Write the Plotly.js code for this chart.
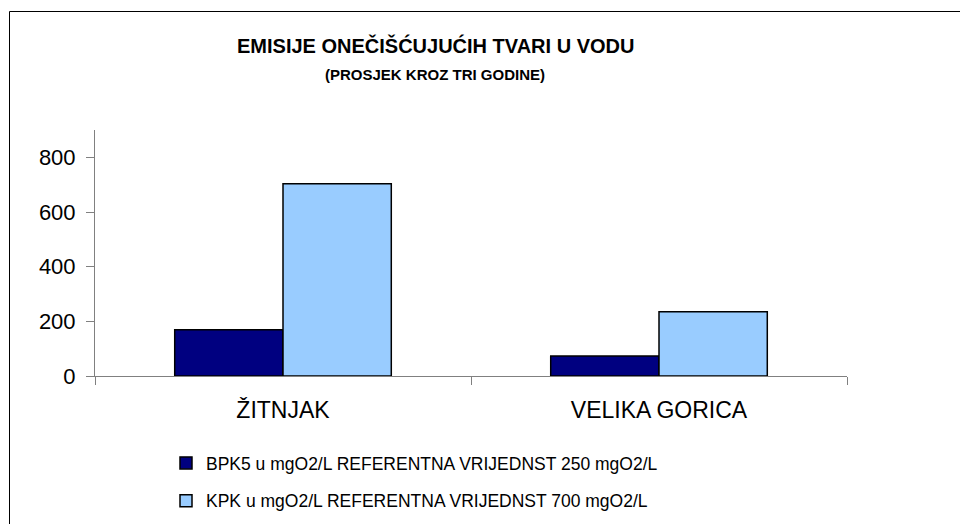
<!DOCTYPE html>
<html>
<head>
<meta charset="utf-8">
<script src="https://cdn.plot.ly/plotly-3.0.1.min.js"></script>
<style>
html,body{margin:0;padding:0;background:#fff;}
#chart{width:960px;height:524px;}
</style>
</head>
<body>
<div id="chart"></div>
<script>
const categories = ["ŽITNJAK", "VELIKA GORICA"];
const seriesNames = [
  "BPK5 u mgO2/L REFERENTNA VRIJEDNST 250 mgO2/L",
  "KPK u mgO2/L REFERENTNA VRIJEDNST 700 mgO2/L"
];
const bpk5 = [169, 73];
const kpk = [703, 235];
const yTicks = [0, 200, 400, 600, 800];
const colors = ["#000080", "#99CCFF"];

const font = "Liberation Sans, Arial, sans-serif";
const W = 960, H = 524;
const m = {l: 95, r: 113, t: 130, b: 148, autoexpand: false};
const pw = W - m.l - m.r, ph = H - m.t - m.b;
const px = x => (x - m.l) / pw;
const py = y => (H - m.b - y) / ph;

const traces = [bpk5, kpk].map((vals, i) => ({
  type: "bar",
  x: categories,
  y: vals,
  name: seriesNames[i],
  legendgroup: "g" + i,
  marker: {color: colors[i], line: {color: "#000", width: 1.5}},
  hoverinfo: "x+y"
}));

const layout = {
  width: W, height: H,
  margin: m,
  paper_bgcolor: "#fff",
  plot_bgcolor: "#fff",
  barmode: "group",
  bargap: 0.424,
  bargroupgap: 0,
  font: {family: font, color: "#000"},
  showlegend: true,
  legend: {
    x: px(166), y: py(445), xanchor: "left", yanchor: "top",
    orientation: "v",
    font: {family: font, size: 17.5, color: "#000"},
    tracegroupgap: 12,
    bgcolor: "rgba(0,0,0,0)"
  },
  xaxis: {
    type: "category",
    showline: true, linecolor: "#808080", linewidth: 1,
    ticks: "outside", ticklen: 8, tickcolor: "#808080",
    tickson: "boundaries",
    tickfont: {family: font, size: 23, color: "#000"},
    ticklabelstandoff: 13,
    showgrid: false, zeroline: false
  },
  yaxis: {
    range: [0, 900],
    tickvals: yTicks,
    ticktext: yTicks.map(String),
    showline: true, linecolor: "#808080", linewidth: 1,
    ticks: "outside", ticklen: 8, tickcolor: "#808080",
    tickfont: {family: font, size: 22, color: "#000"},
    ticklabelstandoff: 6,
    showgrid: false, zeroline: false
  },
  annotations: [
    {text: "<b>EMISIJE ONEČIŠĆUJUĆIH TVARI U VODU</b>", xref: "paper", yref: "paper",
     x: px(435), y: py(45), xanchor: "center", yanchor: "middle", showarrow: false,
     font: {family: font, size: 20, color: "#000"}},
    {text: "<b>(PROSJEK KROZ TRI GODINE)</b>", xref: "paper", yref: "paper",
     x: px(435), y: py(75), xanchor: "center", yanchor: "middle", showarrow: false,
     font: {family: font, size: 15, color: "#000"}}
  ],
  shapes: [
    {type: "rect", xref: "paper", yref: "paper",
     x0: px(9.5), x1: px(1000), y0: py(11.5), y1: py(600),
     line: {color: "#000", width: 1}, fillcolor: "rgba(0,0,0,0)", layer: "below"}
  ]
};

Plotly.newPlot("chart", traces, layout, {displayModeBar: false, staticPlot: true});
</script>
</body>
</html>
